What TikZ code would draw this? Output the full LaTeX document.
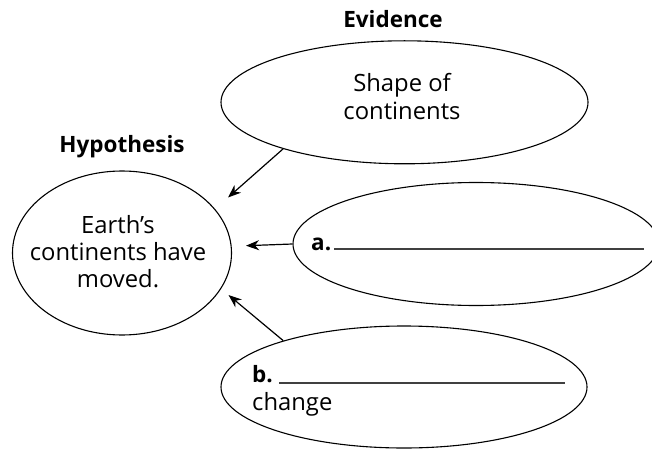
\documentclass[tikz,border=0pt]{standalone}
\usepackage{fontspec}
\setmainfont{Open Sans}
\usetikzlibrary{shapes.geometric,arrows.meta}
\tikzset{
  oval/.style={draw=black, line width=1.1pt, ellipse, inner sep=0pt},
  txt/.style={inner sep=0pt, anchor=base, font=\fontsize{23.8}{27}\selectfont},
  txtl/.style={txt, anchor=base west},
  boldtxt/.style={font=\fontsize{22.5}{27}\selectfont\bfseries},
  head/.style={txt, boldtxt},
  arr/.style={draw=black, line width=1.2pt, -{Stealth[length=13pt,width=10pt,inset=4pt]}},
  blank/.style={draw=black!75, line width=1.3pt},
}
\begin{document}
\begin{tikzpicture}[x=1pt,y=-1pt]
\useasboundingbox (0,0) rectangle (652,449);
% ovals
\node[oval, minimum width=219pt, minimum height=164pt] (hyp) at (122,253) {};
\node[oval, minimum width=367pt, minimum height=123pt] (ev) at (404.5,102.3) {};
\node[oval, minimum width=366pt, minimum height=123pt] (ea) at (476,244) {};
\node[oval, minimum width=366pt, minimum height=122pt] (eb) at (404,387) {};
% headings
\node[head] (evlabel) at (393,28) {Evidence};
\node[head] (hyplabel) at (122,153) {Hypothesis};
% texts
\node[txt] (ev1) at (402,92) {Shape of};
\node[txt] (ev2) at (402,120) {continents};
\node[txt] (h1) at (118,233) {Earth’s};
\node[txt] (h2) at (118,260) {continents have};
\node[txt] (h3) at (118,287) {moved.};
\node[txtl, boldtxt] (alab) at (311,250) {a.};
\node[txtl, boldtxt] (blab) at (252,382) {b.};
\node[txtl] (bchange) at (252,410) {change};
% blanks
\coordinate (a1) at (334,249);
\coordinate (a2) at (644,249);
\coordinate (b1) at (279,383);
\coordinate (b2) at (565,383);
\draw[blank] (a1) -- (a2);
\draw[blank] (b1) -- (b2);
% arrows
\coordinate (tipev) at (228,197.5);
\coordinate (tipa) at (246,245.7);
\coordinate (tipb) at (228.5,295);
\draw[arr] (ev.201) -- (tipev);
\draw[arr] (ea.west) -- (tipa);
\draw[arr] (eb.159) -- (tipb);
\end{tikzpicture}
\end{document}
